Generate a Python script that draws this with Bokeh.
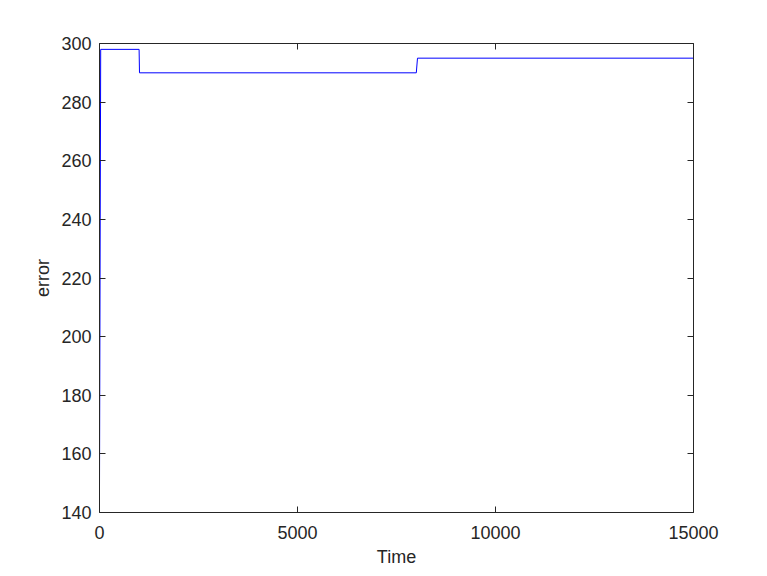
from bokeh.plotting import figure
from bokeh.models import Range1d, LinearAxis, FixedTicker
from bokeh.embed import file_html
from bokeh.resources import INLINE

# data
time = [0, 30, 1000, 1010, 8000, 8030, 15000]
error = [149, 298, 298, 290, 290, 295, 295]
x_ticks = [0, 5000, 10000, 15000]
y_ticks = [140, 160, 180, 200, 220, 240, 260, 280, 300]

FONT = "Liberation Sans"
TXT = "#262626"

p = figure(frame_width=594, frame_height=469, width=759, height=568,
           output_backend="svg", toolbar_location=None,
           x_range=Range1d(0, 15000), y_range=Range1d(140, 300),
           min_border_left=99, min_border_right=66, min_border_top=43,
           min_border_bottom=56)
p.outline_line_color = None
p.xgrid.visible = False
p.ygrid.visible = False

p.line(time, error, line_color="#0000ff", line_width=1)

def style(ax, labels=True):
    ax.axis_line_color = TXT
    ax.axis_line_width = 1
    ax.major_tick_in = 6
    ax.major_tick_out = 0
    ax.major_tick_line_color = TXT
    ax.minor_tick_line_color = None
    ax.major_label_text_font = FONT
    ax.major_label_text_font_size = "18px"
    ax.major_label_text_color = TXT
    ax.axis_label_text_font = FONT
    ax.axis_label_text_font_size = "18px"
    ax.axis_label_text_font_style = "normal"
    ax.axis_label_text_color = TXT
    if not labels:
        ax.major_label_text_font_size = "0px"
        ax.major_label_text_alpha = 0

xa = p.xaxis[0]
xa.ticker = FixedTicker(ticks=x_ticks)
xa.axis_label = "Time"
style(xa)
xa.major_label_standoff = 13
xa.axis_label_standoff = 5

ya = p.yaxis[0]
ya.ticker = FixedTicker(ticks=y_ticks)
ya.axis_label = "error"
style(ya)
ya.major_label_standoff = 8
ya.axis_label_standoff = 5

top = LinearAxis(ticker=FixedTicker(ticks=x_ticks))
style(top, labels=False)
top.major_label_standoff = 0
p.add_layout(top, "above")

right = LinearAxis(ticker=FixedTicker(ticks=y_ticks))
style(right, labels=False)
right.major_label_standoff = 0
p.add_layout(right, "right")

open("out.html", "w").write(file_html(p, INLINE))
